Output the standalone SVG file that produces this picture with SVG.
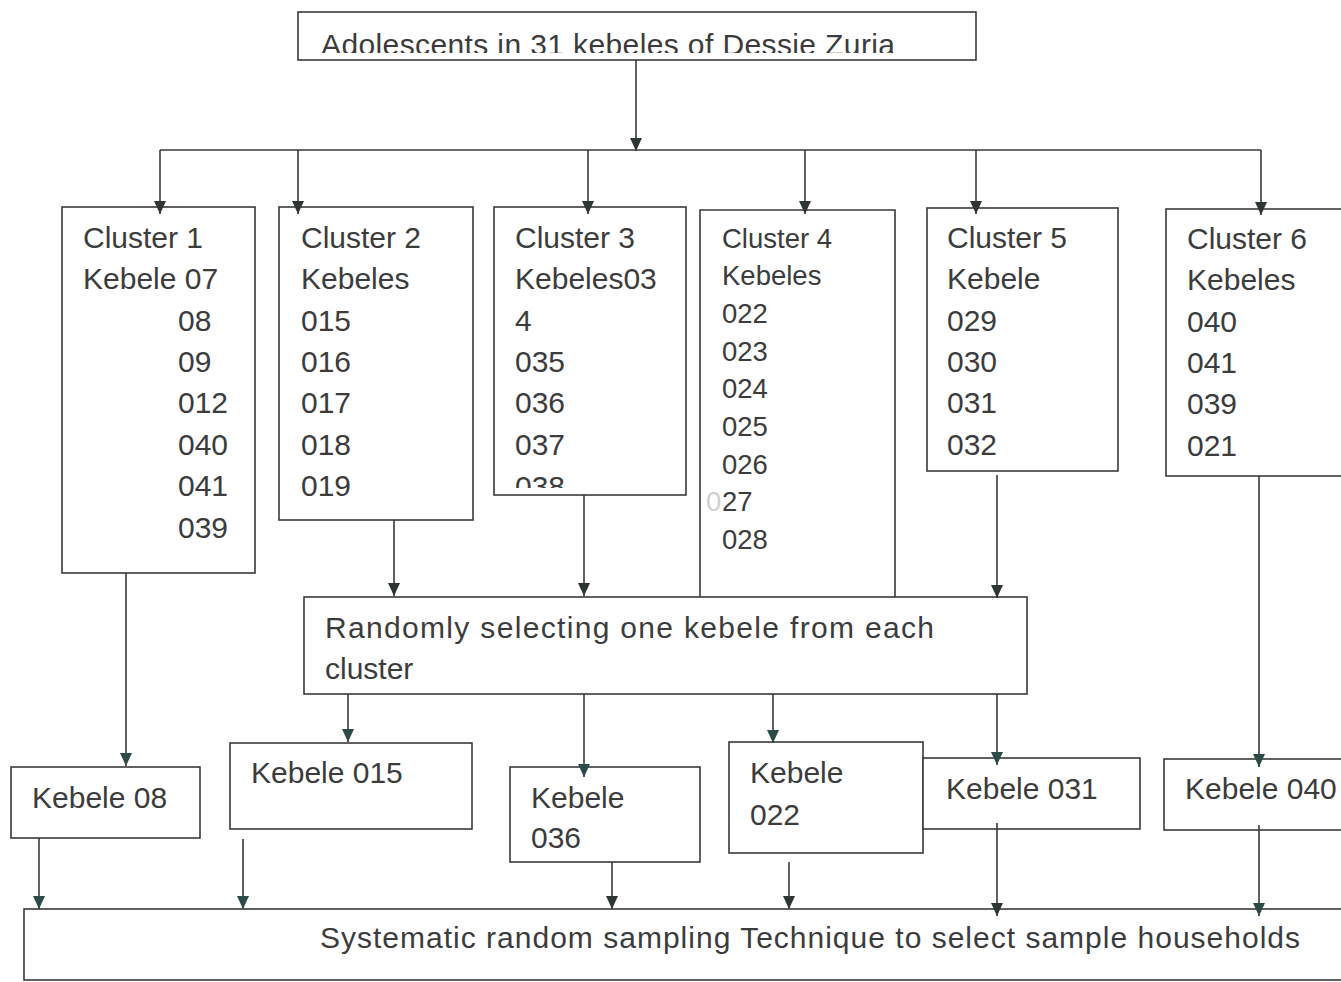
<svg xmlns="http://www.w3.org/2000/svg" width="1341" height="982" viewBox="0 0 1341 982">
<style>
.box{fill:#fff;stroke:#3a3a3a;stroke-width:1.6}
.t{font-family:"Liberation Sans",Arial,sans-serif;font-size:30px;fill:#3c3c3c}
.t4{font-family:"Liberation Sans",Arial,sans-serif;font-size:27.5px;fill:#3c3c3c}
.c{stroke:#3a3a3a;stroke-width:1.6;fill:none}
.m{marker-end:url(#ah)}
.g{marker-end:url(#ag)}
</style>
<defs>
<marker id="ah" markerUnits="userSpaceOnUse" markerWidth="13" markerHeight="12" viewBox="0 0 13 12" refX="13" refY="6" orient="auto">
<path d="M0,0 L13,6 L0,12 Z" fill="#2f3535"/>
</marker>
<marker id="ag" markerUnits="userSpaceOnUse" markerWidth="13" markerHeight="12" viewBox="0 0 13 12" refX="13" refY="6" orient="auto">
<path d="M0,0 L13,6 L0,12 Z" fill="#2c4a47"/>
</marker>
<clipPath id="clipTop"><rect x="298" y="12" width="678" height="41"/></clipPath>
<clipPath id="clipC3"><rect x="494" y="207" width="192" height="281"/></clipPath>
</defs>
<rect width="1341" height="982" fill="#fff"/>

<g id="top">
<rect class="box" x="298" y="12" width="678" height="48"/>
<text class="t" x="321" y="54.5" textLength="574" clip-path="url(#clipTop)">Adolescents in 31 kebeles of Dessie Zuria</text>
</g>

<g id="cluster1">
<rect class="box" x="62" y="207" width="193" height="366"/>
<text class="t" x="83" y="248">Cluster 1</text>
<text class="t" x="83" y="289">Kebele 07</text>
<text class="t" x="178" y="331">08</text>
<text class="t" x="178" y="372">09</text>
<text class="t" x="178" y="413">012</text>
<text class="t" x="178" y="455">040</text>
<text class="t" x="178" y="496">041</text>
<text class="t" x="178" y="538">039</text>
</g>

<g id="cluster2">
<rect class="box" x="279" y="207" width="194" height="313"/>
<text class="t" x="301" y="248">Cluster 2</text>
<text class="t" x="301" y="289">Kebeles</text>
<text class="t" x="301" y="331">015</text>
<text class="t" x="301" y="372">016</text>
<text class="t" x="301" y="413">017</text>
<text class="t" x="301" y="455">018</text>
<text class="t" x="301" y="496">019</text>
</g>

<g id="cluster3">
<rect class="box" x="494" y="207" width="192" height="288"/>
<text class="t" x="515" y="248">Cluster 3</text>
<text class="t" x="515" y="289">Kebeles03</text>
<text class="t" x="515" y="331">4</text>
<text class="t" x="515" y="372">035</text>
<text class="t" x="515" y="413">036</text>
<text class="t" x="515" y="455">037</text>
<text class="t" x="515" y="496.5" clip-path="url(#clipC3)">038</text>
</g>

<g id="cluster4">
<path class="box" d="M700,597 L700,210 L895,210 L895,597"/>
<text class="t4" x="722" y="248">Cluster 4</text>
<text class="t4" x="722" y="285">Kebeles</text>
<text class="t4" x="722" y="323">022</text>
<text class="t4" x="722" y="361">023</text>
<text class="t4" x="722" y="398">024</text>
<text class="t4" x="722" y="436">025</text>
<text class="t4" x="722" y="474">026</text>
<text class="t4" x="706" y="511"><tspan fill="#d0d0d0">0</tspan><tspan x="722">27</tspan></text>
<text class="t4" x="722" y="549">028</text>
</g>

<g id="cluster5">
<rect class="box" x="927" y="208" width="191" height="263"/>
<text class="t" x="947" y="248">Cluster 5</text>
<text class="t" x="947" y="289">Kebele</text>
<text class="t" x="947" y="331">029</text>
<text class="t" x="947" y="372">030</text>
<text class="t" x="947" y="413">031</text>
<text class="t" x="947" y="455">032</text>
</g>

<g id="cluster6">
<rect class="box" x="1166" y="209" width="200" height="267"/>
<text class="t" x="1187" y="249">Cluster 6</text>
<text class="t" x="1187" y="290">Kebeles</text>
<text class="t" x="1187" y="332">040</text>
<text class="t" x="1187" y="373">041</text>
<text class="t" x="1187" y="414">039</text>
<text class="t" x="1187" y="456">021</text>
</g>

<g id="random">
<rect class="box" x="304" y="597" width="723" height="97"/>
<text class="t" x="325" y="638" textLength="609">Randomly selecting one kebele from each</text>
<text class="t" x="325" y="679">cluster</text>
</g>

<g id="k08">
<rect class="box" x="11" y="767" width="189" height="71"/>
<text class="t" x="32" y="808">Kebele 08</text>
</g>
<g id="k015">
<rect class="box" x="230" y="743" width="242" height="86"/>
<text class="t" x="251" y="783">Kebele 015</text>
</g>
<g id="k036">
<rect class="box" x="510" y="767" width="190" height="95"/>
<text class="t" x="531" y="808">Kebele</text>
<text class="t" x="531" y="848">036</text>
</g>
<g id="k022">
<rect class="box" x="729" y="742" width="194" height="111"/>
<text class="t" x="750" y="783">Kebele</text>
<text class="t" x="750" y="825">022</text>
</g>
<g id="k031">
<rect class="box" x="923" y="758" width="217" height="71"/>
<text class="t" x="946" y="799">Kebele 031</text>
</g>
<g id="k040">
<rect class="box" x="1164" y="759" width="200" height="71"/>
<text class="t" x="1185" y="799">Kebele 040</text>
</g>

<g id="systematic">
<rect class="box" x="24" y="909" width="1340" height="71"/>
<text class="t" x="320" y="948" textLength="980">Systematic random sampling Technique to select sample households</text>
</g>

<g id="connectors">
<line class="c m" x1="636" y1="60" x2="636" y2="151"/>
<line class="c" x1="160" y1="150" x2="1261" y2="150"/>
<line class="c m" x1="160" y1="150" x2="160" y2="214"/>
<line class="c m" x1="298" y1="150" x2="298" y2="214"/>
<line class="c m" x1="588" y1="150" x2="588" y2="214"/>
<line class="c m" x1="805" y1="150" x2="805" y2="214"/>
<line class="c m" x1="976" y1="150" x2="976" y2="214"/>
<line class="c m" x1="1261" y1="150" x2="1261" y2="215"/>
<line class="c g" x1="126" y1="573" x2="126" y2="766"/>
<line class="c m" x1="394" y1="520" x2="394" y2="596"/>
<line class="c m" x1="584" y1="495" x2="584" y2="596"/>
<line class="c m" x1="997" y1="475" x2="997" y2="598"/>
<line class="c g" x1="1259" y1="476" x2="1259" y2="767"/>
<line class="c g" x1="348" y1="694" x2="348" y2="742"/>
<line class="c g" x1="584" y1="694" x2="584" y2="777"/>
<line class="c g" x1="773" y1="694" x2="773" y2="743"/>
<line class="c g" x1="997" y1="694" x2="997" y2="765"/>
<line class="c g" x1="39" y1="838" x2="39" y2="909"/>
<line class="c g" x1="243" y1="839" x2="243" y2="909"/>
<line class="c m" x1="612" y1="862" x2="612" y2="909"/>
<line class="c m" x1="789" y1="862" x2="789" y2="909"/>
<line class="c m" x1="997" y1="823" x2="997" y2="916"/>
<line class="c g" x1="1259" y1="825" x2="1259" y2="916"/>
</g>
</svg>
